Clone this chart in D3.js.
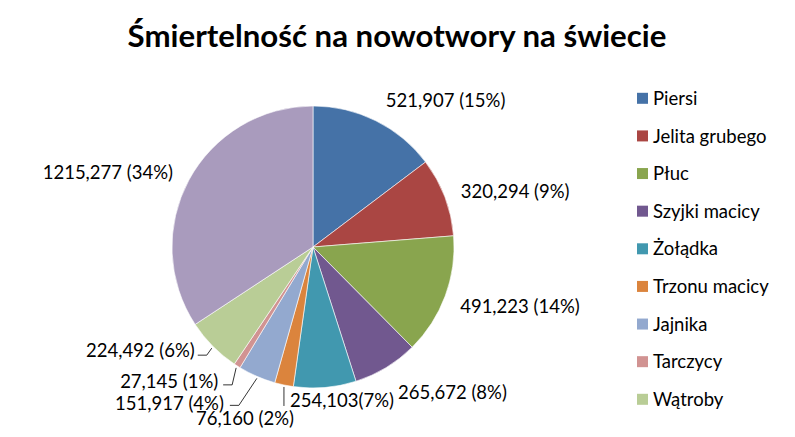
<!DOCTYPE html>
<html>
<head>
<meta charset="utf-8">
<script src="https://cdn.jsdelivr.net/npm/d3@7"></script>
<style>
  html, body { margin: 0; padding: 0; background: #fff; }
  svg { display: block; font-family: Lato, "Open Sans", sans-serif; }
</style>
</head>
<body>
<svg id="chart" width="795" height="437"></svg>
<script>
// data (thousands of deaths)
var categories = ["Piersi", "Jelita grubego", "Płuc", "Szyjki macicy", "Żołądka",
                  "Trzonu macicy", "Jajnika", "Tarczycy", "Wątroby", "Pozostałe"];
var values = [521.907, 320.294, 491.223, 265.672, 254.103, 76.160, 151.917, 27.145, 224.492, 1215.277];
var percents = [15, 9, 14, 8, 7, 2, 4, 1, 6, 34];
var labelGaps = [" ", " ", " ", " ", "", " ", " ", " ", " ", " "];
var legendCount = 9; // the last slice is not in the legend (cut off)

var colors = ["#4572A7", "#AA4643", "#89A54E", "#71588F", "#4198AF",
              "#DB843D", "#93A9CF", "#D19392", "#B9CD96", "#A99BBD"];

// where each data label sits relative to the slice's outer edge point
var labelLayout = [
  {dx: 10, dy: -20, anchor: "start"},
  {dx: 16, dy: -6, anchor: "start"},
  {dx: 15, dy: 10, anchor: "start"},
  {dx: 12, dy: 25, anchor: "start"},
  {dx: -35, dy: 12.5, anchor: "start"},
  {dx: -39, dy: 33, anchor: "middle", leader: [[0, 2], [0, 21]]},
  {dx: -33, dy: 26.5, anchor: "end", leader: [[0, 2], [-18, 29], [-27, 29]]},
  {dx: -19, dy: 15, anchor: "end", leader: [[-1, 2], [-5, 19], [-14, 19]]},
  {dx: -18, dy: 4, anchor: "end", leader: [[-1, 2], [-6, 9], [-15, 9]]},
  {dx: -16, dy: -8, anchor: "end"}
];

var svg = d3.select("#chart");
var cx = 313, cy = 247, R = 141;

// title, sized to the width it has in the picture
var title = svg.append("text")
  .attr("x", 397).attr("y", 47)
  .attr("text-anchor", "middle")
  .attr("font-weight", "bold")
  .attr("font-size", 28)
  .attr("fill", "#000")
  .text("Śmiertelność na nowotwory na świecie");
var tw = title.node().getComputedTextLength();
title.attr("font-size", 28 * 539 / tw);

var fmt = d3.formatLocale({decimal: ",", thousands: " ", grouping: [3], currency: ["", ""]}).format(".3f");

var rows = categories.map(function(c, i) {
  return {name: c, value: values[i], pct: percents[i], gap: labelGaps[i], color: colors[i], i: i};
});

var pie = d3.pie().sort(null).value(function(d) { return d.value; });
var arcs = pie(rows);
var arc = d3.arc().innerRadius(0).outerRadius(R);

var g = svg.append("g").attr("transform", "translate(" + cx + "," + cy + ")");

g.selectAll("path.slice").data(arcs).enter().append("path")
  .attr("class", "slice")
  .attr("d", arc)
  .attr("fill", function(d) { return d.data.color; })
  .attr("stroke", "#fff")
  .attr("stroke-width", 0.6);

function edgePoint(d) {
  var a = (d.startAngle + d.endAngle) / 2;
  return [Math.sin(a) * R, -Math.cos(a) * R];
}

// leader lines
g.selectAll("polyline.leader").data(arcs.filter(function(d) { return labelLayout[d.data.i].leader; }))
  .enter().append("polyline")
  .attr("class", "leader")
  .attr("fill", "none")
  .attr("stroke", "#000")
  .attr("stroke-width", 0.8)
  .attr("points", function(d) {
    var p = edgePoint(d);
    return labelLayout[d.data.i].leader.map(function(o) { return (p[0] + o[0]) + "," + (p[1] + o[1]); }).join(" ");
  });

// data labels
g.selectAll("text.lbl").data(arcs).enter().append("text")
  .attr("class", "lbl")
  .attr("x", function(d) { return edgePoint(d)[0] + labelLayout[d.data.i].dx; })
  .attr("y", function(d) { return edgePoint(d)[1] + labelLayout[d.data.i].dy; })
  .attr("dy", "0.36em")
  .attr("text-anchor", function(d) { return labelLayout[d.data.i].anchor; })
  .attr("font-size", 18.5)
  .attr("fill", "#000")
  .text(function(d) { return fmt(d.data.value) + d.data.gap + "(" + d.data.pct + "%)"; });

// legend
var legendY = d3.scalePoint().domain(d3.range(legendCount)).range([98.3, 399.3]);
var leg = svg.append("g").selectAll("g").data(rows.slice(0, legendCount)).enter().append("g")
  .attr("transform", function(d) { return "translate(637," + legendY(d.i) + ")"; });
leg.append("rect")
  .attr("x", 0).attr("y", -5.5).attr("width", 11).attr("height", 11)
  .attr("fill", function(d) { return d.color; });
leg.append("text")
  .attr("x", 16).attr("dy", "0.36em")
  .attr("font-size", 18.5)
  .attr("fill", "#000")
  .text(function(d) { return d.name; });
</script>
</body>
</html>
